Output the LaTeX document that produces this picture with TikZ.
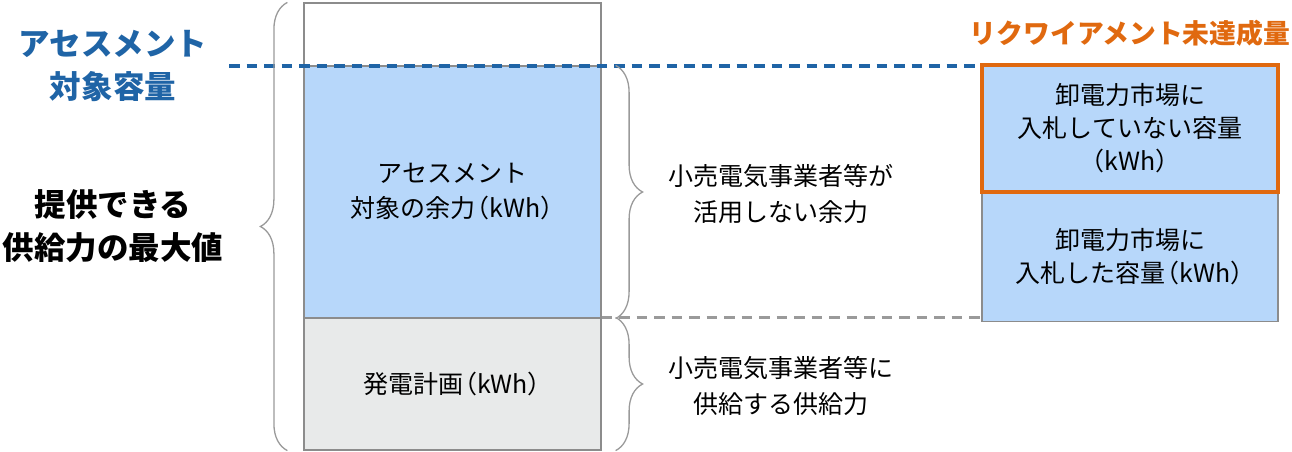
\documentclass[tikz,border=0pt]{standalone}
\usepackage{fontspec}
\setmainfont{Noto Sans CJK JP}
\usetikzlibrary{decorations.pathreplacing}
\definecolor{spareblue}{HTML}{B7D7FA}
\definecolor{plangray}{HTML}{E8EAEA}
\definecolor{edgegray}{HTML}{8C8C8C}
\definecolor{bracegray}{HTML}{9A9A9A}
\definecolor{assessblue}{HTML}{1F64A6}
\definecolor{reqorange}{HTML}{E0690F}
\newcommand{\kwh}{\kern-.45em（kWh）\kern-.45em}
\begin{document}
\begin{tikzpicture}[x=1pt,y=-1pt,
  part/.style={draw=edgegray,line width=1.2pt,minimum width=297pt,inner sep=0pt,align=center,
    font=\fontsize{25}{35}\selectfont},
  market/.style={part,minimum width=296pt,font=\fontsize{25}{33}\selectfont},
  sidetext/.style={align=center,font=\fontsize{25}{36}\selectfont},
  bigtext/.style={align=center,font=\bfseries\fontsize{31.5}{43}\selectfont},
  bracket/.style={draw=bracegray,line width=1.3pt,decorate,decoration={brace,amplitude=27pt}},
  levelline/.style={line width=3.8pt,dash pattern=on 10.5pt off 7pt}]
\useasboundingbox (0,0) rectangle (1292,451);

\node[part,minimum height=63pt] (top) at (452.5,34.5) {};
\node[part,fill=spareblue,minimum height=252pt] (spare) at (452.5,192) {アセスメント\\対象の余力\kwh};
\node[part,fill=plangray,minimum height=132pt] (plan) at (452.5,384) {発電計画\kwh};

\node[market,fill=spareblue,minimum height=129pt] (bid) at (1130,257) {卸電力市場に\\入札した容量\kwh};
\node[market,fill=spareblue,draw=reqorange,line width=4pt,minimum height=127pt] (unbid) at (1130,128.5) {卸電力市場に\\入札していない容量\\（kWh）};
\node[bigtext,font=\bfseries\fontsize{26.8}{30}\selectfont,text=reqorange] (shortfall) at (1130,33) {リクワイアメント未達成量};

\coordinate (assess) at (229,66);
\draw[levelline,assessblue] (assess) -- (assess -| unbid.west);
\draw[levelline,bracegray] (plan.north east) -- (plan.north east -| bid.west);

\node[bigtext,text=assessblue] (assesslabel) at (113,66) {アセスメント\\対象容量};
\node[bigtext] (maxlabel) at (113,226) {提供できる\\供給力の最大値};

\draw[bracket] ([xshift=-16pt]plan.south west) -- ([xshift=-16pt]top.north west);
\draw[bracket] ([xshift=14pt]spare.north east) -- ([xshift=14pt]spare.south east);
\draw[bracket] ([xshift=14pt]plan.north east) -- ([xshift=14pt]plan.south east);

\node[sidetext] (unused) at (781,194) {小売電気事業者等が\\活用しない余力};
\node[sidetext] (supplied) at (781,386) {小売電気事業者等に\\供給する供給力};
\end{tikzpicture}
\end{document}
